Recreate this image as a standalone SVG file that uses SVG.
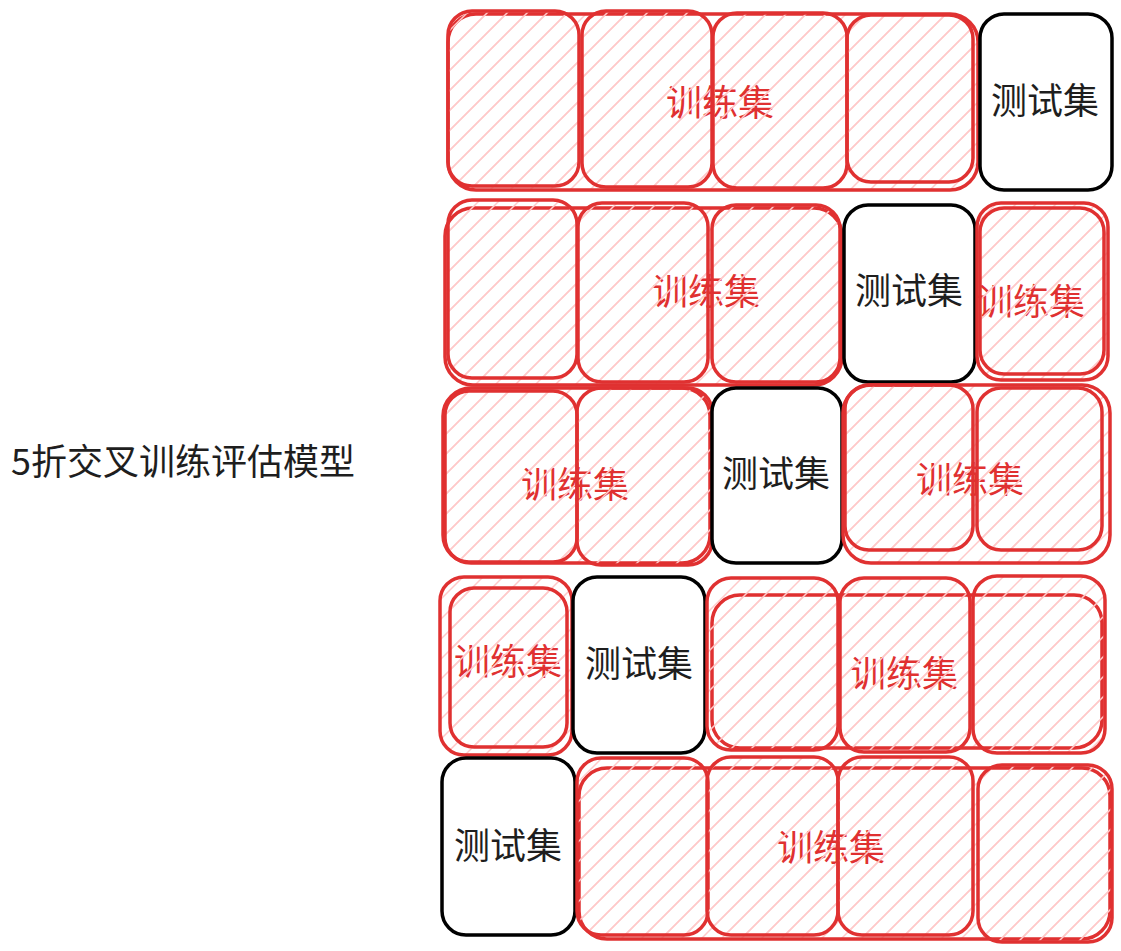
<svg xmlns="http://www.w3.org/2000/svg" width="1121" height="951" viewBox="0 0 1121 951">
<defs>
<pattern id="hatch" width="20" height="20" patternUnits="userSpaceOnUse">
<path d="M-2,22 L22,-2 M-4,4 L4,-4 M16,24 L24,16" stroke="#ffc9c9" stroke-width="1.5" fill="none"/>
</pattern>
</defs>
<style>
.tr{fill:url(#hatch);stroke:#e03131;stroke-width:3.5}
.ts{fill:#ffffff;stroke:#000000;stroke-width:3.5}
.lt{font-family:"Noto Sans CJK SC","Noto Sans",sans-serif;font-size:36px;text-anchor:middle}
.red{fill:#e03131}
.blk{fill:#1e1e1e}
</style>
<rect width="1121" height="951" fill="#ffffff"/>
<g id="title"><text x="11" y="475" class="lt blk" style="text-anchor:start">5折交叉训练评估模型</text></g>

<!-- Row 1 -->
<g id="r1-train"><rect class="tr" x="448" y="14" width="530" height="176" rx="28"/><text x="720" y="116" class="lt red">训练集</text></g>
<g id="r1-c1"><rect class="tr" x="448" y="11" width="131" height="175" rx="24"/></g>
<g id="r1-c2"><rect class="tr" x="582" y="11" width="130" height="176" rx="24"/></g>
<g id="r1-c3"><rect class="tr" x="713" y="13" width="134" height="175" rx="24"/></g>
<g id="r1-c4"><rect class="tr" x="847" y="15" width="126" height="167" rx="24"/></g>
<g id="r1-test"><rect class="ts" x="980" y="14" width="132" height="176" rx="24"/><text x="1045" y="114" class="lt blk">测试集</text></g>

<!-- Row 2 -->
<g id="r2-train"><rect class="tr" x="445" y="208" width="397" height="177" rx="28"/><text x="706" y="305" class="lt red">训练集</text></g>
<g id="r2-c1"><rect class="tr" x="448" y="200" width="129" height="178" rx="24"/></g>
<g id="r2-c2"><rect class="tr" x="578" y="203" width="130" height="179" rx="24"/></g>
<g id="r2-c3"><rect class="tr" x="712" y="205" width="128" height="177" rx="24"/></g>
<g id="r2-test"><rect class="ts" x="844" y="205" width="131" height="177" rx="24"/><text x="909" y="304" class="lt blk">测试集</text></g>
<g id="r2-train2"><rect class="tr" x="977" y="203" width="131" height="177" rx="24"/><text x="1031" y="315" class="lt red">训练集</text><rect class="tr" x="980" y="208" width="124" height="166" rx="24"/></g>

<!-- Row 3 -->
<g id="r3-train"><rect class="tr" x="443" y="388" width="267" height="175" rx="28"/><text x="575" y="498" class="lt red">训练集</text></g>
<g id="r3-c1"><rect class="tr" x="445" y="391" width="132" height="171" rx="24"/></g>
<g id="r3-c2"><rect class="tr" x="577" y="388" width="135" height="177" rx="24"/></g>
<g id="r3-test"><rect class="ts" x="712" y="388" width="130" height="175" rx="24"/><text x="776" y="487" class="lt blk">测试集</text></g>
<g id="r3-train2"><rect class="tr" x="843" y="385" width="267" height="178" rx="28"/><text x="970" y="493" class="lt red">训练集</text></g>
<g id="r3-c4"><rect class="tr" x="845" y="385" width="128" height="165" rx="24"/></g>
<g id="r3-c5"><rect class="tr" x="977" y="388" width="125" height="162" rx="24"/></g>

<!-- Row 4 -->
<g id="r4-train"><rect class="tr" x="440" y="577" width="132" height="178" rx="24"/><text x="508" y="675" class="lt red">训练集</text><rect class="tr" x="450" y="588" width="117" height="159" rx="24"/></g>
<g id="r4-test"><rect class="ts" x="573" y="577" width="132" height="176" rx="24"/><text x="639" y="677" class="lt blk">测试集</text></g>
<g id="r4-train2"><rect class="tr" x="712" y="595" width="390" height="153" rx="28"/><text x="904" y="687" class="lt red">训练集</text></g>
<g id="r4-c3"><rect class="tr" x="707" y="578" width="131" height="172" rx="24"/></g>
<g id="r4-c4"><rect class="tr" x="840" y="578" width="130" height="174" rx="24"/></g>
<g id="r4-c5"><rect class="tr" x="973" y="576" width="132" height="177" rx="24"/></g>

<!-- Row 5 -->
<g id="r5-test"><rect class="ts" x="442" y="758" width="133" height="177" rx="24"/><text x="508" y="859" class="lt blk">测试集</text></g>
<g id="r5-train"><rect class="tr" x="579" y="768" width="531" height="171" rx="28"/><text x="831" y="861" class="lt red">训练集</text></g>
<g id="r5-c2"><rect class="tr" x="577" y="758" width="131" height="177" rx="24"/></g>
<g id="r5-c3"><rect class="tr" x="707" y="757" width="131" height="178" rx="24"/></g>
<g id="r5-c4"><rect class="tr" x="838" y="757" width="135" height="178" rx="24"/></g>
<g id="r5-c5"><rect class="tr" x="978" y="765" width="134" height="177" rx="24"/></g>
</svg>
